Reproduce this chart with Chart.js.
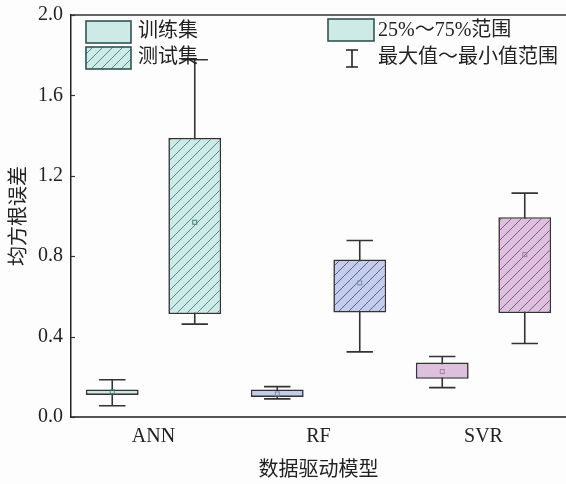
<!DOCTYPE html>
<html>
<head>
<meta charset="utf-8">
<script src="https://cdn.jsdelivr.net/npm/chart.js@4/dist/chart.umd.min.js"></script>
<style>
  html, body { margin: 0; padding: 0; background: #fdfdfd; }
  #wrap { width: 566px; height: 484px; }
</style>
</head>
<body>
<div id="wrap"><canvas id="c" width="566" height="484"></canvas></div>
<script>
// Models and RMSE box statistics (min, quartiles, max, mean)
const models = ['ANN', 'RF', 'SVR'];
const seriesNames = ['训练集', '测试集'];

const trainMin  = [0.056, 0.090, 0.146];
const trainQ1   = [0.110, 0.100, 0.190];
const trainQ3   = [0.137, 0.137, 0.271];
const trainMax  = [0.185, 0.151, 0.301];
const trainMean = [0.125, 0.115, 0.226];

const testMin  = [0.462, 0.324, 0.366];
const testQ1   = [0.512, 0.520, 0.517];
const testQ3   = [1.388, 0.783, 0.994];
const testMax  = [1.777, 0.878, 1.114];
const testMean = [0.969, 0.667, 0.808];

const yMin = 0, yMax = 2.0, yStep = 0.4;

// per-model colours: fill, hatch line, marker
const fills  = ['#cdeae6', '#c3cdeb', '#dcc0de'];
const hatchC = ['#4f8f8a', '#56648f', '#875a8a'];
const markC  = ['#4a7f7b', '#7d88b0', '#a77aa9'];

function hatch(bg, line) {
  const s = 10;
  const c = document.createElement('canvas');
  c.width = s; c.height = s;
  const g = c.getContext('2d');
  g.fillStyle = bg;
  g.fillRect(0, 0, s, s);
  g.strokeStyle = line;
  g.lineWidth = 1;
  g.beginPath();
  g.moveTo(0, s); g.lineTo(s, 0);
  g.moveTo(-s / 2, s / 2); g.lineTo(s / 2, -s / 2);
  g.moveTo(s / 2, s * 1.5); g.lineTo(s * 1.5, s / 2);
  g.stroke();
  return g.createPattern(c, 'repeat');
}
const hatches = fills.map((f, i) => hatch(f, hatchC[i]));

const boxColor = '#333333';
const serif = '"Liberation Serif", "Noto Sans CJK SC", serif';
const cjk = '"Noto Sans CJK SC", sans-serif';

const boxPlot = {
  id: 'boxPlot',
  beforeDatasetsDraw(chart) {
    const { ctx, scales: { y } } = chart;
    const ranges = [[trainMin, trainMax], [testMin, testMax]];
    ctx.save();
    ctx.strokeStyle = boxColor;
    ctx.lineWidth = 1.6;
    ranges.forEach(([mins, maxs], di) => {
      chart.getDatasetMeta(di).data.forEach((bar, i) => {
        const x = bar.x, half = bar.width / 4;
        const p0 = y.getPixelForValue(mins[i]);
        const p1 = y.getPixelForValue(maxs[i]);
        ctx.beginPath();
        ctx.moveTo(x, p0); ctx.lineTo(x, p1);
        ctx.moveTo(x - half, p0); ctx.lineTo(x + half, p0);
        ctx.moveTo(x - half, p1); ctx.lineTo(x + half, p1);
        ctx.stroke();
      });
    });
    ctx.restore();
  },
  afterDatasetsDraw(chart) {
    const { ctx, chartArea: a, scales: { y } } = chart;
    ctx.save();
    // mean markers
    [trainMean, testMean].forEach((means, di) => {
      chart.getDatasetMeta(di).data.forEach((bar, i) => {
        const py = y.getPixelForValue(means[i]);
        ctx.strokeStyle = markC[i];
        ctx.lineWidth = 1;
        ctx.strokeRect(bar.x - 2, py - 2, 4, 4);
      });
    });
    // top frame line
    ctx.strokeStyle = '#333';
    ctx.lineWidth = 1.5;
    ctx.beginPath();
    ctx.moveTo(a.left, a.top); ctx.lineTo(a.right, a.top);
    ctx.stroke();
    // inward ticks on the value axis
    ctx.lineWidth = 1.2;
    y.ticks.forEach(t => {
      const py = Math.round(y.getPixelForValue(t.value)) + 0.5;
      ctx.beginPath();
      ctx.moveTo(a.left, py); ctx.lineTo(a.left + 4, py);
      ctx.stroke();
    });

    // legend
    ctx.textBaseline = 'middle';
    ctx.textAlign = 'left';
    ctx.font = '20px ' + serif;
    ctx.strokeStyle = '#2f5450';
    ctx.lineWidth = 1.6;
    ctx.fillStyle = fills[0];
    ctx.fillRect(86, 21, 45, 22);
    ctx.strokeRect(86, 21, 45, 22);
    ctx.fillStyle = hatches[0];
    ctx.fillRect(86, 47, 45, 22);
    ctx.strokeRect(86, 47, 45, 22);
    ctx.fillStyle = '#222';
    ctx.fillText(seriesNames[0], 138, 32);
    ctx.fillText(seriesNames[1], 138, 58);

    ctx.fillStyle = fills[0];
    ctx.fillRect(328, 19, 46, 22);
    ctx.strokeRect(328, 19, 46, 22);
    ctx.strokeStyle = '#222';
    ctx.beginPath();
    ctx.moveTo(352, 50); ctx.lineTo(352, 67);
    ctx.moveTo(346, 50); ctx.lineTo(358, 50);
    ctx.moveTo(346, 67); ctx.lineTo(358, 67);
    ctx.stroke();
    ctx.fillStyle = '#222';
    ctx.fillText('25%～75%范围', 378, 31);
    ctx.fillText('最大值～最小值范围', 378, 58);
    ctx.restore();
  }
};

const chart = new Chart(document.getElementById('c'), {
  type: 'bar',
  data: {
    labels: models,
    datasets: [
      {
        label: seriesNames[0],
        data: models.map((m, i) => [trainQ1[i], trainQ3[i]]),
        backgroundColor: fills,
        borderColor: boxColor,
        borderWidth: 1.6,
        borderSkipped: false
      },
      {
        label: seriesNames[1],
        data: models.map((m, i) => [testQ1[i], testQ3[i]]),
        backgroundColor: hatches,
        borderColor: boxColor,
        borderWidth: 1.6,
        borderSkipped: false
      }
    ]
  },
  options: {
    responsive: false,
    animation: false,
    devicePixelRatio: 1,
    categoryPercentage: 1.0,
    barPercentage: 0.64,
    layout: { padding: { top: 15, right: 0, left: 0, bottom: 0 } },
    plugins: { legend: { display: false }, tooltip: { enabled: false } },
    scales: {
      x: {
        grid: { display: false, drawTicks: false },
        border: { display: true, color: '#555', width: 2 },
        ticks: { color: '#222', padding: 8, font: { family: serif, size: 20 } },
        title: {
          display: true, text: '数据驱动模型', color: '#222',
          font: { family: cjk, size: 20 }, padding: { top: 0, bottom: 4 }
        },
        afterFit(s) { s.height = 67; s.paddingLeft = 0; s.paddingRight = 0; }
      },
      y: {
        min: yMin, max: yMax,
        grid: { display: true, drawOnChartArea: false, drawTicks: false },
        border: { display: true, color: '#222', width: 1.5 },
        ticks: {
          stepSize: yStep, color: '#222', padding: 8,
          font: { family: serif, size: 20 },
          callback: v => Number(v).toFixed(1)
        },
        title: {
          display: true, text: '均方根误差', color: '#222',
          font: { family: cjk, size: 20 }, padding: { top: 5, bottom: 0 }
        },
        afterFit(s) { s.width = 71; s.paddingTop = 0; s.paddingBottom = 0; }
      }
    }
  },
  plugins: [boxPlot]
});
</script>
</body>
</html>
